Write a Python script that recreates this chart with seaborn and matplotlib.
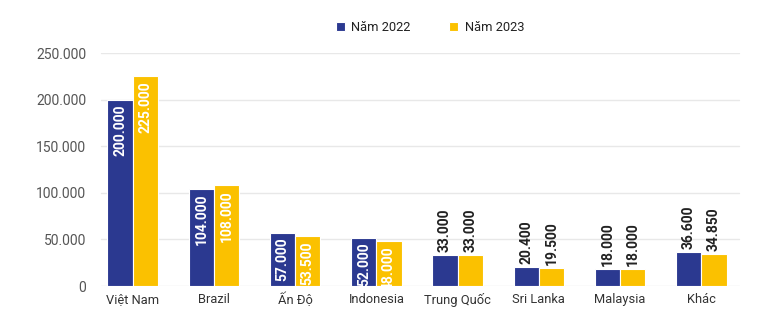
import matplotlib
matplotlib.use("Agg")
import matplotlib.pyplot as plt
import seaborn as sns
import pandas as pd
from matplotlib.ticker import FuncFormatter

categories = ["Việt Nam", "Brazil", "Ấn Độ", "Indonesia", "Trung Quốc", "Sri Lanka", "Malaysia", "Khác"]
values_2022 = [200000, 104000, 57000, 52000, 33000, 20400, 18000, 36600]
values_2023 = [225000, 108000, 53500, 48000, 33000, 19500, 18000, 34850]
series_names = ["Năm 2022", "Năm 2023"]
yticks = [0, 50000, 100000, 150000, 200000, 250000]

df = pd.DataFrame({
    "cat": categories * 2,
    "val": values_2022 + values_2023,
    "series": [series_names[0]] * len(categories) + [series_names[1]] * len(categories),
})

sns.set_theme(style="white")
plt.rcParams["font.family"] = ["Roboto", "DejaVu Sans"]

fig = plt.figure(figsize=(7.65, 3.34), dpi=100)
ax = fig.add_axes([0.1203, 0.1437, 0.8497, 0.6976])

palette = {"Năm 2022": "#2B3990", "Năm 2023": "#FBC100"}
sns.barplot(data=df, x="cat", y="val", hue="series", order=categories,
            hue_order=series_names, palette=palette, width=0.62,
            edgecolor="white", linewidth=0.8, saturation=1, ax=ax, legend=True)

ax.set_ylim(0, 250000)
ax.set_xlim(-0.5, len(categories) - 0.5)
ax.set_yticks(yticks)
ax.yaxis.set_major_formatter(FuncFormatter(lambda v, p: f"{int(v):,}".replace(",", ".")))
for yt in yticks:
    ax.axhline(yt, xmin=0.0138, xmax=0.995, color="#e8e8e8", linewidth=1, zorder=0)
for s in ax.spines.values():
    s.set_visible(False)
ax.tick_params(axis="both", length=0)
ax.tick_params(axis="y", labelcolor="#555555", pad=4, labelsize=10)
ax.tick_params(axis="x", labelcolor="#333333", pad=5, labelsize=9.3)
ax.set_xlabel("")
ax.set_ylabel("")

for cont in ax.containers:
    for bar in cont:
        h = bar.get_height()
        x = bar.get_x() + bar.get_width() / 2
        lbl = f"{int(round(h)):,}".replace(",", ".")
        if h > 40000:
            ax.annotate(lbl, (x, h), xytext=(0, -3.5), textcoords="offset points",
                        rotation=90, ha="center", va="top", color="white",
                        fontsize=10, fontweight="bold")
        else:
            ax.annotate(lbl, (x, h), xytext=(0, 2), textcoords="offset points",
                        rotation=90, ha="center", va="bottom", color="#222222",
                        fontsize=10, fontweight="bold")

leg = ax.legend(loc="lower center", bbox_to_anchor=(0.52, 1.03), ncol=2, frameon=False,
                fontsize=9.3, handlelength=0.7, handleheight=0.7, columnspacing=3.0,
                handletextpad=0.5)
for t in leg.get_texts():
    t.set_color("#222222")

fig.savefig("out.png", dpi=100)
